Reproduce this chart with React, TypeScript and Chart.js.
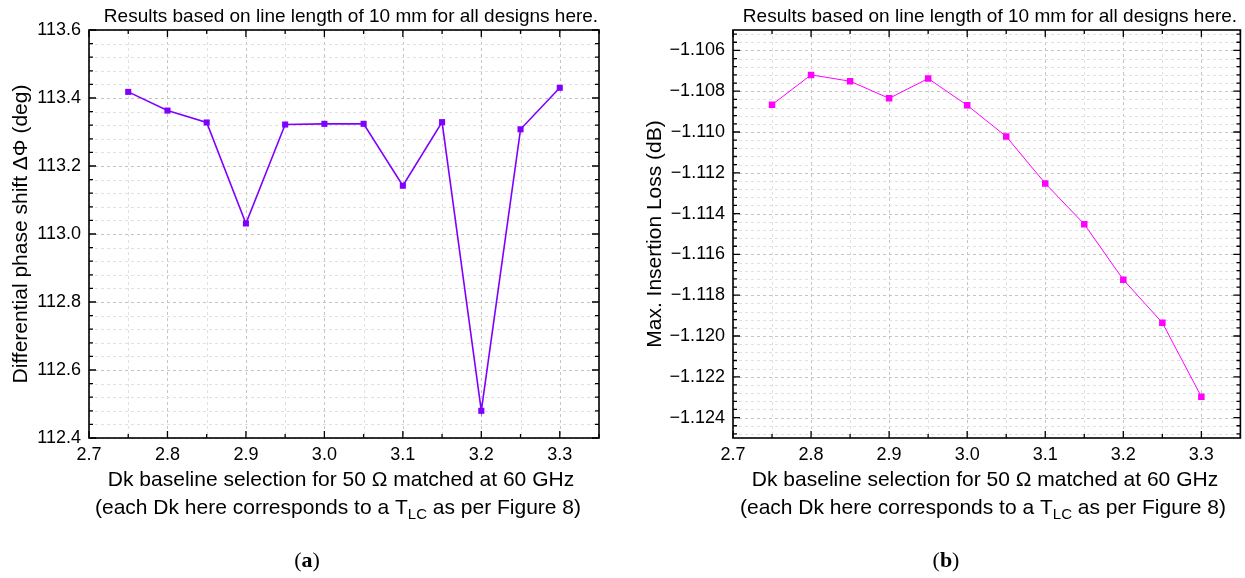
import React, { useEffect, useRef } from 'react';
import { Chart, registerables } from 'chart.js';

Chart.register(...registerables);

// ---------- data ----------
const dkValues = [2.75, 2.8, 2.85, 2.9, 2.95, 3.0, 3.05, 3.1, 3.15, 3.2, 3.25, 3.3];
const phaseShiftDeg = [113.418, 113.363, 113.328, 113.031, 113.322, 113.324, 113.324, 113.142, 113.329, 112.48, 113.308, 113.43];
const insertionLossDb = [-1.10866, -1.1072, -1.10751, -1.10835, -1.10738, -1.10869, -1.11022, -1.11252, -1.11452, -1.11724, -1.11935, -1.12298];

const xMajorTicks = [2.7, 2.8, 2.9, 3.0, 3.1, 3.2, 3.3];
const phaseMajorTicks = [112.4, 112.6, 112.8, 113.0, 113.2, 113.4, 113.6];
const lossMajorTicks = [-1.124, -1.122, -1.12, -1.118, -1.116, -1.114, -1.112, -1.11, -1.108, -1.106];

const titleText = 'Results based on line length of 10 mm for all designs here.';
const xTitleLine1 = 'Dk baseline selection for 50 \u03A9 matched at 60 GHz';
const xTitleLine2Parts = ['(each Dk here corresponds to a T', 'LC', ' as per Figure 8)'];
const phaseYTitle = 'Differential phase shift \u0394\u03A6 (deg)';
const lossYTitle = 'Max. Insertion Loss (dB)';

const SANS = '"Liberation Sans", Arial, sans-serif';
const SERIF = '"Liberation Serif", "Times New Roman", serif';

type Panel = {
  key: string;
  left: number;
  width: number;
  height: number;
  area: { left: number; right: number; top: number; bottom: number };
  xMin: number; xMax: number; xMinor: number;
  yMin: number; yMax: number; yMinor: number;
  yMajors: number[];
  yFormat: (v: number) => string;
  values: number[];
  color: string;
  lineWidth: number;
  pointRadius: number;
  yTitle: string;
  yTitleX: number;
  titleX: number;
  xTitle1X: number;
  xTitle2X: number;
  captionX: number;
  caption: string;
};

function minorList(anchor: number, step: number, min: number, max: number) {
  const out: number[] = [];
  const k0 = Math.ceil((min - anchor) / step - 1e-6);
  const k1 = Math.floor((max - anchor) / step + 1e-6);
  for (let k = k0; k <= k1; k++) out.push(Math.round((anchor + k * step) * 1e7) / 1e7);
  return out;
}

function isIn(v: number, list: number[]) {
  return list.some((m) => Math.abs(m - v) < 1e-6);
}

function makePlugin(p: Panel) {
  const xMinors = minorList(xMajorTicks[0], p.xMinor, p.xMin, p.xMax);
  const yMinors = minorList(p.yMajors[0], p.yMinor, p.yMin, p.yMax);
  return {
    id: 'decor_' + p.key,
    beforeDatasetsDraw(chart: any) {
      const { ctx, chartArea: a, scales } = chart;
      ctx.save();
      ctx.lineWidth = 1;
      ctx.setLineDash([3, 3]);
      for (const v of xMinors) {
        const px = Math.round(scales.x.getPixelForValue(v)) + 0.5;
        ctx.strokeStyle = isIn(v, xMajorTicks) ? '#c4c4c4' : '#e0e0e0';
        ctx.beginPath();
        ctx.moveTo(px, a.top);
        ctx.lineTo(px, a.bottom);
        ctx.stroke();
      }
      for (const v of yMinors) {
        const py = Math.round(scales.y.getPixelForValue(v)) + 0.5;
        ctx.strokeStyle = isIn(v, p.yMajors) ? '#c4c4c4' : '#e0e0e0';
        ctx.beginPath();
        ctx.moveTo(a.left, py);
        ctx.lineTo(a.right, py);
        ctx.stroke();
      }
      ctx.restore();
    },
    afterDraw(chart: any) {
      const { ctx, chartArea: a, scales } = chart;
      ctx.save();
      // inward ticks
      ctx.strokeStyle = '#000';
      ctx.lineWidth = 1.3;
      for (const v of xMinors) {
        const px = scales.x.getPixelForValue(v);
        const len = isIn(v, xMajorTicks) ? 7 : 4;
        ctx.beginPath();
        ctx.moveTo(px, a.bottom);
        ctx.lineTo(px, a.bottom - len);
        ctx.moveTo(px, a.top);
        ctx.lineTo(px, a.top + len);
        ctx.stroke();
      }
      for (const v of yMinors) {
        const py = scales.y.getPixelForValue(v);
        const len = isIn(v, p.yMajors) ? 7 : 4;
        ctx.beginPath();
        ctx.moveTo(a.left, py);
        ctx.lineTo(a.left + len, py);
        ctx.moveTo(a.right, py);
        ctx.lineTo(a.right - len, py);
        ctx.stroke();
      }
      // frame
      ctx.lineWidth = 1.6;
      ctx.strokeRect(a.left, a.top, a.right - a.left, a.bottom - a.top);

      ctx.fillStyle = '#000';
      ctx.textBaseline = 'middle';
      // top note
      ctx.font = `19px ${SANS}`;
      ctx.textAlign = 'center';
      ctx.fillText(titleText, p.titleX, 17);

      // x title line 1
      const big = `21px ${SANS}`;
      const small = `15px ${SANS}`;
      ctx.font = big;
      ctx.fillText(xTitleLine1, p.xTitle1X, 480);

      // x title line 2 with subscript
      ctx.font = big;
      const w0 = ctx.measureText(xTitleLine2Parts[0]).width;
      const w2 = ctx.measureText(xTitleLine2Parts[2]).width;
      ctx.font = small;
      const w1 = ctx.measureText(xTitleLine2Parts[1]).width;
      let x = p.xTitle2X - (w0 + w1 + w2) / 2;
      ctx.textAlign = 'left';
      ctx.font = big;
      ctx.fillText(xTitleLine2Parts[0], x, 508);
      x += w0;
      ctx.font = small;
      ctx.fillText(xTitleLine2Parts[1], x, 515);
      x += w1;
      ctx.font = big;
      ctx.fillText(xTitleLine2Parts[2], x, 508);

      // y title
      ctx.save();
      ctx.translate(p.yTitleX, (a.top + a.bottom) / 2);
      ctx.rotate(-Math.PI / 2);
      ctx.textAlign = 'center';
      ctx.font = big;
      ctx.fillText(p.yTitle, 0, 0);
      ctx.restore();

      // caption (a)/(b)
      const capReg = `22px ${SERIF}`;
      const capBold = `bold 22px ${SERIF}`;
      ctx.font = capReg;
      const pw = ctx.measureText('(').width;
      const cw = ctx.measureText(')').width;
      ctx.font = capBold;
      const lw = ctx.measureText(p.caption).width;
      let cx = p.captionX - (pw + lw + cw) / 2;
      ctx.textAlign = 'left';
      ctx.font = capReg;
      ctx.fillText('(', cx, 561);
      cx += pw;
      ctx.font = capBold;
      ctx.fillText(p.caption, cx, 561);
      cx += lw;
      ctx.font = capReg;
      ctx.fillText(')', cx, 561);
      ctx.restore();
    },
  };
}

function ChartPanel({ p }: { p: Panel }) {
  const ref = useRef<HTMLCanvasElement | null>(null);
  useEffect(() => {
    if (!ref.current) return;
    const a = p.area;
    const chart = new Chart(ref.current, {
      type: 'line',
      data: {
        datasets: [
          {
            data: dkValues.map((x, i) => ({ x, y: p.values[i] })),
            borderColor: p.color,
            backgroundColor: p.color,
            borderWidth: p.lineWidth,
            pointStyle: 'rect',
            pointRadius: p.pointRadius,
            pointBorderWidth: 0,
            pointBackgroundColor: p.color,
            tension: 0,
          },
        ],
      },
      options: {
        responsive: false,
        animation: false,
        devicePixelRatio: 1,
        events: [],
        layout: {
          padding: { left: 0, right: p.width - a.right, top: a.top, bottom: 0 },
        },
        plugins: { legend: { display: false }, tooltip: { enabled: false }, title: { display: false } },
        scales: {
          x: {
            type: 'linear',
            min: p.xMin,
            max: p.xMax,
            grid: { display: false, drawTicks: false },
            border: { display: false },
            afterBuildTicks: (s: any) => {
              s.ticks = xMajorTicks.map((v) => ({ value: v }));
            },
            afterFit: (s: any) => {
              s.height = p.height - a.bottom;
            },
            ticks: {
              autoSkip: false,
              maxRotation: 0,
              padding: 6,
              color: '#000',
              font: { family: SANS, size: 18 },
              callback: (v: any) => Number(v).toFixed(1),
            },
          },
          y: {
            type: 'linear',
            min: p.yMin,
            max: p.yMax,
            grid: { display: false, drawTicks: false },
            border: { display: false },
            afterBuildTicks: (s: any) => {
              s.ticks = p.yMajors.map((v) => ({ value: v }));
            },
            afterFit: (s: any) => {
              s.width = a.left;
            },
            ticks: {
              autoSkip: false,
              padding: 8,
              color: '#000',
              font: { family: SANS, size: 18 },
              callback: (v: any) => p.yFormat(Number(v)),
            },
          },
        },
      },
      plugins: [makePlugin(p)],
    } as any);
    return () => chart.destroy();
  }, [p]);
  return (
    <canvas
      ref={ref}
      width={p.width}
      height={p.height}
      style={{ position: 'absolute', left: p.left, top: 0, width: p.width, height: p.height, display: 'block' }}
    />
  );
}

const leftPanel: Panel = {
  key: 'a',
  left: 0,
  width: 620,
  height: 578,
  area: { left: 89, right: 599, top: 30, bottom: 438 },
  xMin: 2.7, xMax: 3.35, xMinor: 0.05,
  yMin: 112.4, yMax: 113.6, yMinor: 0.04,
  yMajors: phaseMajorTicks,
  yFormat: (v) => v.toFixed(1),
  values: phaseShiftDeg,
  color: '#8000ff',
  lineWidth: 1.6,
  pointRadius: 4.3,
  yTitle: phaseYTitle,
  yTitleX: 21,
  titleX: 351,
  xTitle1X: 341,
  xTitle2X: 338,
  captionX: 307,
  caption: 'a',
};

const rightPanel: Panel = {
  key: 'b',
  left: 620,
  width: 625,
  height: 578,
  area: { left: 113, right: 622, top: 30, bottom: 438 },
  xMin: 2.7, xMax: 3.35, xMinor: 0.05,
  yMin: -1.125, yMax: -1.105, yMinor: 0.0004,
  yMajors: lossMajorTicks,
  yFormat: (v) => (v < 0 ? '\u2212' : '') + Math.abs(v).toFixed(3),
  values: insertionLossDb,
  color: '#ff00ff',
  lineWidth: 1,
  pointRadius: 4.6,
  yTitle: lossYTitle,
  yTitleX: 35,
  titleX: 370,
  xTitle1X: 365,
  xTitle2X: 363,
  captionX: 326,
  caption: 'b',
};

export default function App() {
  return (
    <div style={{ position: 'absolute', left: 0, top: 0, width: 1245, height: 578, background: '#fff', overflow: 'hidden' }}>
      <ChartPanel p={leftPanel} />
      <ChartPanel p={rightPanel} />
    </div>
  );
}
